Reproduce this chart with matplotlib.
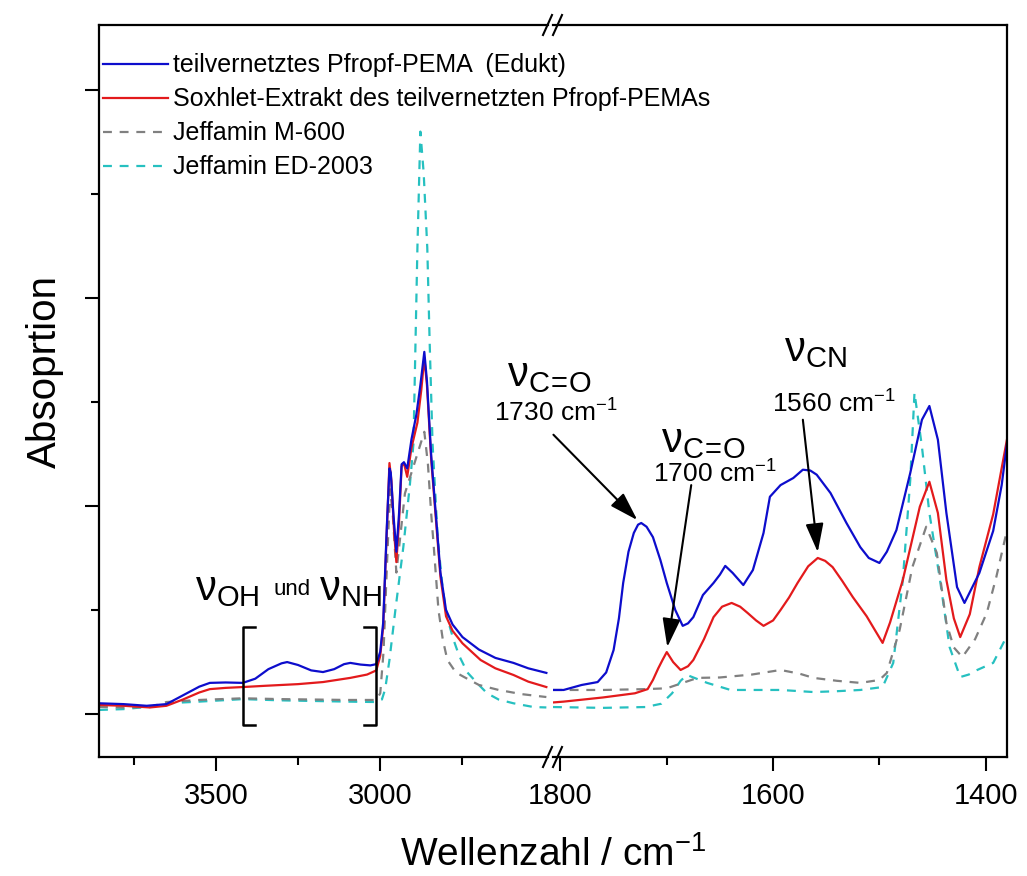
import numpy as np
import matplotlib
matplotlib.use("Agg")
import matplotlib.pyplot as plt
from matplotlib.lines import Line2D

plt.rcParams['font.family'] = ['Liberation Sans', 'DejaVu Sans']
plt.rcParams['mathtext.fontset'] = 'custom'
plt.rcParams['mathtext.rm'] = 'Liberation Sans'

# ---------------- data ----------------
# left window, 3855 - 2490 cm-1
wn_blue_l = [3855, 3780, 3710, 3650, 3600, 3550, 3518, 3470, 3418, 3380, 3340, 3300, 3283, 3250,
             3210, 3174, 3140, 3110, 3091, 3060, 3030, 3012, 3000, 2991, 2980, 2972, 2968, 2960,
             2951, 2943, 2935, 2928, 2918, 2905, 2890, 2878, 2866, 2858, 2845, 2832, 2817, 2800,
             2780, 2750, 2700, 2650, 2595, 2550, 2495]
ab_blue_l = [0.026, 0.024, 0.020, 0.024, 0.045, 0.066, 0.075, 0.076, 0.075, 0.085, 0.108, 0.122,
             0.125, 0.118, 0.105, 0.101, 0.108, 0.120, 0.123, 0.119, 0.117, 0.120, 0.150, 0.22,
             0.45, 0.59, 0.58, 0.48, 0.39, 0.48, 0.60, 0.605, 0.59, 0.66, 0.72, 0.79, 0.870, 0.80,
             0.62, 0.49, 0.34, 0.25, 0.215, 0.185, 0.155, 0.135, 0.123, 0.110, 0.099]

wn_red_l = [3855, 3780, 3700, 3650, 3600, 3550, 3518, 3470, 3418, 3350, 3250, 3174, 3091, 3040,
            3012, 3000, 2991, 2982, 2972, 2966, 2958, 2951, 2943, 2935, 2928, 2918, 2905, 2887,
            2875, 2866, 2858, 2845, 2832, 2817, 2800, 2780, 2750, 2695, 2650, 2595, 2550, 2495]
ab_red_l = [0.022, 0.020, 0.016, 0.020, 0.035, 0.052, 0.060, 0.063, 0.065, 0.068, 0.072, 0.077,
            0.087, 0.095, 0.105, 0.14, 0.21, 0.40, 0.603, 0.56, 0.44, 0.365, 0.46, 0.595, 0.603,
            0.570, 0.64, 0.70, 0.78, 0.856, 0.79, 0.61, 0.48, 0.33, 0.235, 0.20, 0.17, 0.130,
            0.11, 0.094, 0.078, 0.065]

wn_gray_l = [3855, 3780, 3700, 3650, 3550, 3418, 3300, 3100, 3012, 3000, 2990, 2980, 2970, 2962,
             2951, 2940, 2925, 2905, 2885, 2866, 2855, 2845, 2838, 2823, 2810, 2796, 2770, 2745,
             2700, 2640, 2570, 2495]
ab_gray_l = [0.017, 0.016, 0.017, 0.029, 0.034, 0.038, 0.036, 0.034, 0.034, 0.05, 0.15, 0.35,
             0.54, 0.48, 0.34, 0.42, 0.53, 0.58, 0.63, 0.678, 0.60, 0.48, 0.41, 0.25, 0.18, 0.13,
             0.10, 0.089, 0.07, 0.058, 0.048, 0.041]

wn_cyan_l = [3855, 3780, 3700, 3650, 3550, 3418, 3300, 3100, 3012, 2995, 2985, 2972, 2954, 2930,
             2910, 2899, 2887, 2878, 2868, 2857, 2850, 2841, 2825, 2810, 2796, 2777, 2760, 2735,
             2700, 2675, 2640, 2595, 2534, 2495]
ab_cyan_l = [0.010, 0.012, 0.018, 0.026, 0.030, 0.036, 0.033, 0.030, 0.029, 0.035, 0.06, 0.13,
             0.25, 0.40, 0.55, 0.65, 1.12, 1.399, 1.30, 1.12, 0.90, 0.65, 0.42, 0.30, 0.23, 0.178,
             0.14, 0.10, 0.07, 0.05, 0.035, 0.026, 0.017, 0.016]

# right window, 1807 - 1380 cm-1
wn_blue_r = [1807, 1797, 1780, 1765, 1757, 1750, 1745, 1741, 1736, 1731, 1727, 1724, 1719, 1713,
             1706, 1700, 1692, 1685, 1680, 1675, 1666, 1656, 1650, 1645, 1638, 1628, 1619, 1609,
             1603, 1593, 1581, 1572, 1565, 1559, 1546, 1531, 1518, 1510, 1500, 1493, 1484, 1471,
             1460, 1453, 1445, 1437, 1427, 1420, 1406, 1393, 1385, 1380]
ab_blue_r = [0.058, 0.058, 0.070, 0.077, 0.10, 0.154, 0.23, 0.315, 0.39, 0.435, 0.455, 0.459,
             0.450, 0.425, 0.37, 0.315, 0.25, 0.212, 0.218, 0.233, 0.286, 0.315, 0.335, 0.356,
             0.339, 0.310, 0.346, 0.435, 0.522, 0.550, 0.567, 0.587, 0.585, 0.575, 0.531, 0.459,
             0.401, 0.375, 0.363, 0.39, 0.442, 0.579, 0.707, 0.740, 0.659, 0.483, 0.305, 0.267,
             0.339, 0.44, 0.55, 0.65]

wn_red_r = [1807, 1797, 1760, 1730, 1718, 1713, 1708, 1704, 1700, 1694, 1687, 1680, 1675, 1665,
            1656, 1648, 1639, 1631, 1624, 1616, 1609, 1600, 1593, 1585, 1577, 1567, 1558, 1551,
            1544, 1535, 1525, 1512, 1505, 1497, 1490, 1478, 1470, 1462, 1453, 1445, 1437, 1430,
            1424, 1415, 1406, 1393, 1380]
ab_red_r = [0.028, 0.030, 0.040, 0.050, 0.060, 0.082, 0.11, 0.13, 0.149, 0.125, 0.106, 0.115,
            0.130, 0.18, 0.233, 0.258, 0.267, 0.258, 0.243, 0.225, 0.212, 0.225, 0.250, 0.28,
            0.315, 0.355, 0.375, 0.368, 0.353, 0.32, 0.281, 0.235, 0.205, 0.171, 0.22, 0.322,
            0.41, 0.498, 0.558, 0.483, 0.322, 0.23, 0.185, 0.24, 0.353, 0.48, 0.66]

wn_gray_r = [1807, 1760, 1720, 1700, 1685, 1671, 1650, 1620, 1593, 1575, 1562, 1540, 1518, 1500,
             1493, 1481, 1469, 1456, 1446, 1437, 1430, 1422, 1410, 1399, 1390, 1380]
ab_gray_r = [0.058, 0.058, 0.060, 0.062, 0.075, 0.087, 0.088, 0.095, 0.106, 0.097, 0.087, 0.080,
             0.075, 0.082, 0.099, 0.202, 0.353, 0.450, 0.387, 0.219, 0.16, 0.137, 0.18, 0.243,
             0.33, 0.442]

wn_cyan_r = [1807, 1760, 1720, 1705, 1695, 1687, 1681, 1672, 1662, 1640, 1620, 1593, 1562, 1540,
             1518, 1497, 1487, 1478, 1471, 1467, 1460, 1453, 1443, 1434, 1424, 1416, 1408, 1393,
             1382, 1380]
ab_cyan_r = [0.017, 0.015, 0.017, 0.025, 0.05, 0.08, 0.094, 0.085, 0.075, 0.058, 0.058, 0.058,
             0.053, 0.055, 0.058, 0.065, 0.123, 0.322, 0.562, 0.772, 0.642, 0.483, 0.322, 0.161,
             0.089, 0.095, 0.106, 0.123, 0.178, 0.19]

labels = ['teilvernetztes Pfropf-PEMA  (Edukt)',
          'Soxhlet-Extrakt des teilvernetzten Pfropf-PEMAs',
          'Jeffamin M-600',
          'Jeffamin ED-2003']
colors = ['#0d0dcc', '#e31a1c', '#808080', '#26c0c0']
styles = ['-', '-', (0, (4, 3.5)), (0, (4, 3.5))]

left_lim = (3855, 2490)
right_lim = (1807, 1380)
y_lim = (-0.103, 1.655)

# ---------------- figure ----------------
fig = plt.figure(figsize=(10.27, 8.76), dpi=100)
W, H = 1027.0, 876.0
bot = (H - 757) / H
hgt = (757 - 25) / H
axL = fig.add_axes([99 / W, bot, (548 - 99) / W, hgt])
axR = fig.add_axes([553 / W, bot, (1007 - 553) / W, hgt])
axR.set_facecolor('none')

left_data = [(wn_blue_l, ab_blue_l), (wn_red_l, ab_red_l), (wn_gray_l, ab_gray_l), (wn_cyan_l, ab_cyan_l)]
right_data = [(wn_blue_r, ab_blue_r), (wn_red_r, ab_red_r), (wn_gray_r, ab_gray_r), (wn_cyan_r, ab_cyan_r)]

# draw in reverse so blue is on top
for i in [3, 2, 1, 0]:
    axL.plot(left_data[i][0], left_data[i][1], color=colors[i], ls=styles[i], lw=1.6)
    axR.plot(right_data[i][0], right_data[i][1], color=colors[i], ls=styles[i], lw=1.6)

for ax in (axL, axR):
    ax.set_ylim(*y_lim)
    for sp in ax.spines.values():
        sp.set_linewidth(1.6)
    ax.tick_params(axis='both', which='major', direction='out', length=10, width=1.5, labelsize=21)
    ax.tick_params(axis='both', which='minor', direction='out', length=6, width=1.5)

axL.set_xlim(*left_lim)
axR.set_xlim(*right_lim)
axL.spines['right'].set_visible(False)
axR.spines['left'].set_visible(False)
axR.tick_params(axis='y', which='both', left=False, right=False, labelleft=False)
axL.set_yticks([0, 0.5, 1.0, 1.5])
axL.set_yticks([0.25, 0.75, 1.25], minor=True)
axL.set_yticklabels([])
axL.set_xticks([3500, 3000])
axL.set_xticks([3750, 3250, 2750], minor=True)
axR.set_xticks([1800, 1600, 1400])
axR.set_xticks([1700, 1500], minor=True)
for ax in (axL, axR):
    ax.tick_params(axis='x', pad=8)

# break marks
for yy in (25, 757):
    for x0 in (543, 553):
        fig.add_artist(Line2D([x0 / W, (x0 + 9) / W], [(H - yy - 10) / H, (H - yy + 10) / H],
                              color='k', lw=1.5))

# legend
handles = [Line2D([], [], color=colors[i], ls=styles[i], lw=1.6) for i in range(4)]
axL.legend(handles, labels, loc='upper left', bbox_to_anchor=(-0.002, 0.968), frameon=False,
           fontsize=18, handlelength=2.6, handletextpad=0.2, labelspacing=0.4,
           borderaxespad=0, borderpad=0.2)

# axis labels
fig.text(553 / W, (H - 855) / H, 'Wellenzahl / cm$^{\\mathregular{-1}}$', fontsize=28,
         ha='center', va='center')
fig.text(45 / W, (H - 372) / H, 'Absoprtion', fontsize=29, rotation=90, ha='center', va='center')

# annotations, left window
axL.text(3465, 0.300, 'ν$_{\\mathregular{OH}}$', fontsize=30, ha='center', va='center')
axL.text(3268, 0.300, 'und', fontsize=16, ha='center', va='center')
axL.text(3091, 0.300, 'ν$_{\\mathregular{NH}}$', fontsize=30, ha='center', va='center')
axL.plot([3380, 3418, 3418, 3380], [0.209, 0.209, -0.026, -0.026], color='k', lw=1.8)
axL.plot([3049, 3012, 3012, 3049], [0.209, 0.209, -0.026, -0.026], color='k', lw=1.8)

# annotations, right window
co = 'ν$_{\\mathregular{C}\\!\\mathregular{=}\\!\\mathregular{O}}$'
arrow = dict(arrowstyle='-|>,head_length=0.8,head_width=0.25', color='k', lw=1.5,
             mutation_scale=22, shrinkA=0, shrinkB=0)
axR.text(1811, 0.815, co, fontsize=30, ha='center', va='center')
axR.text(1804, 0.726, '1730 cm$^{\\mathregular{-1}}$', fontsize=19, ha='center', va='center')
axR.annotate('', xy=(1727.7, 0.466), xytext=(1806.6, 0.671), arrowprops=arrow,
             annotation_clip=False)
axR.text(1666, 0.655, co, fontsize=30, ha='center', va='center')
axR.text(1655, 0.580, '1700 cm$^{\\mathregular{-1}}$', fontsize=19, ha='center', va='center')
axR.annotate('', xy=(1699.5, 0.161), xytext=(1677, 0.550), arrowprops=arrow)
axR.text(1560.6, 0.875, 'ν$_{\\mathregular{CN}}$', fontsize=30, ha='center', va='center')
axR.text(1543, 0.748, '1560 cm$^{\\mathregular{-1}}$', fontsize=19, ha='center', va='center')
axR.annotate('', xy=(1558, 0.389), xytext=(1572, 0.707), arrowprops=arrow)

fig.savefig('out.png', dpi=100)
